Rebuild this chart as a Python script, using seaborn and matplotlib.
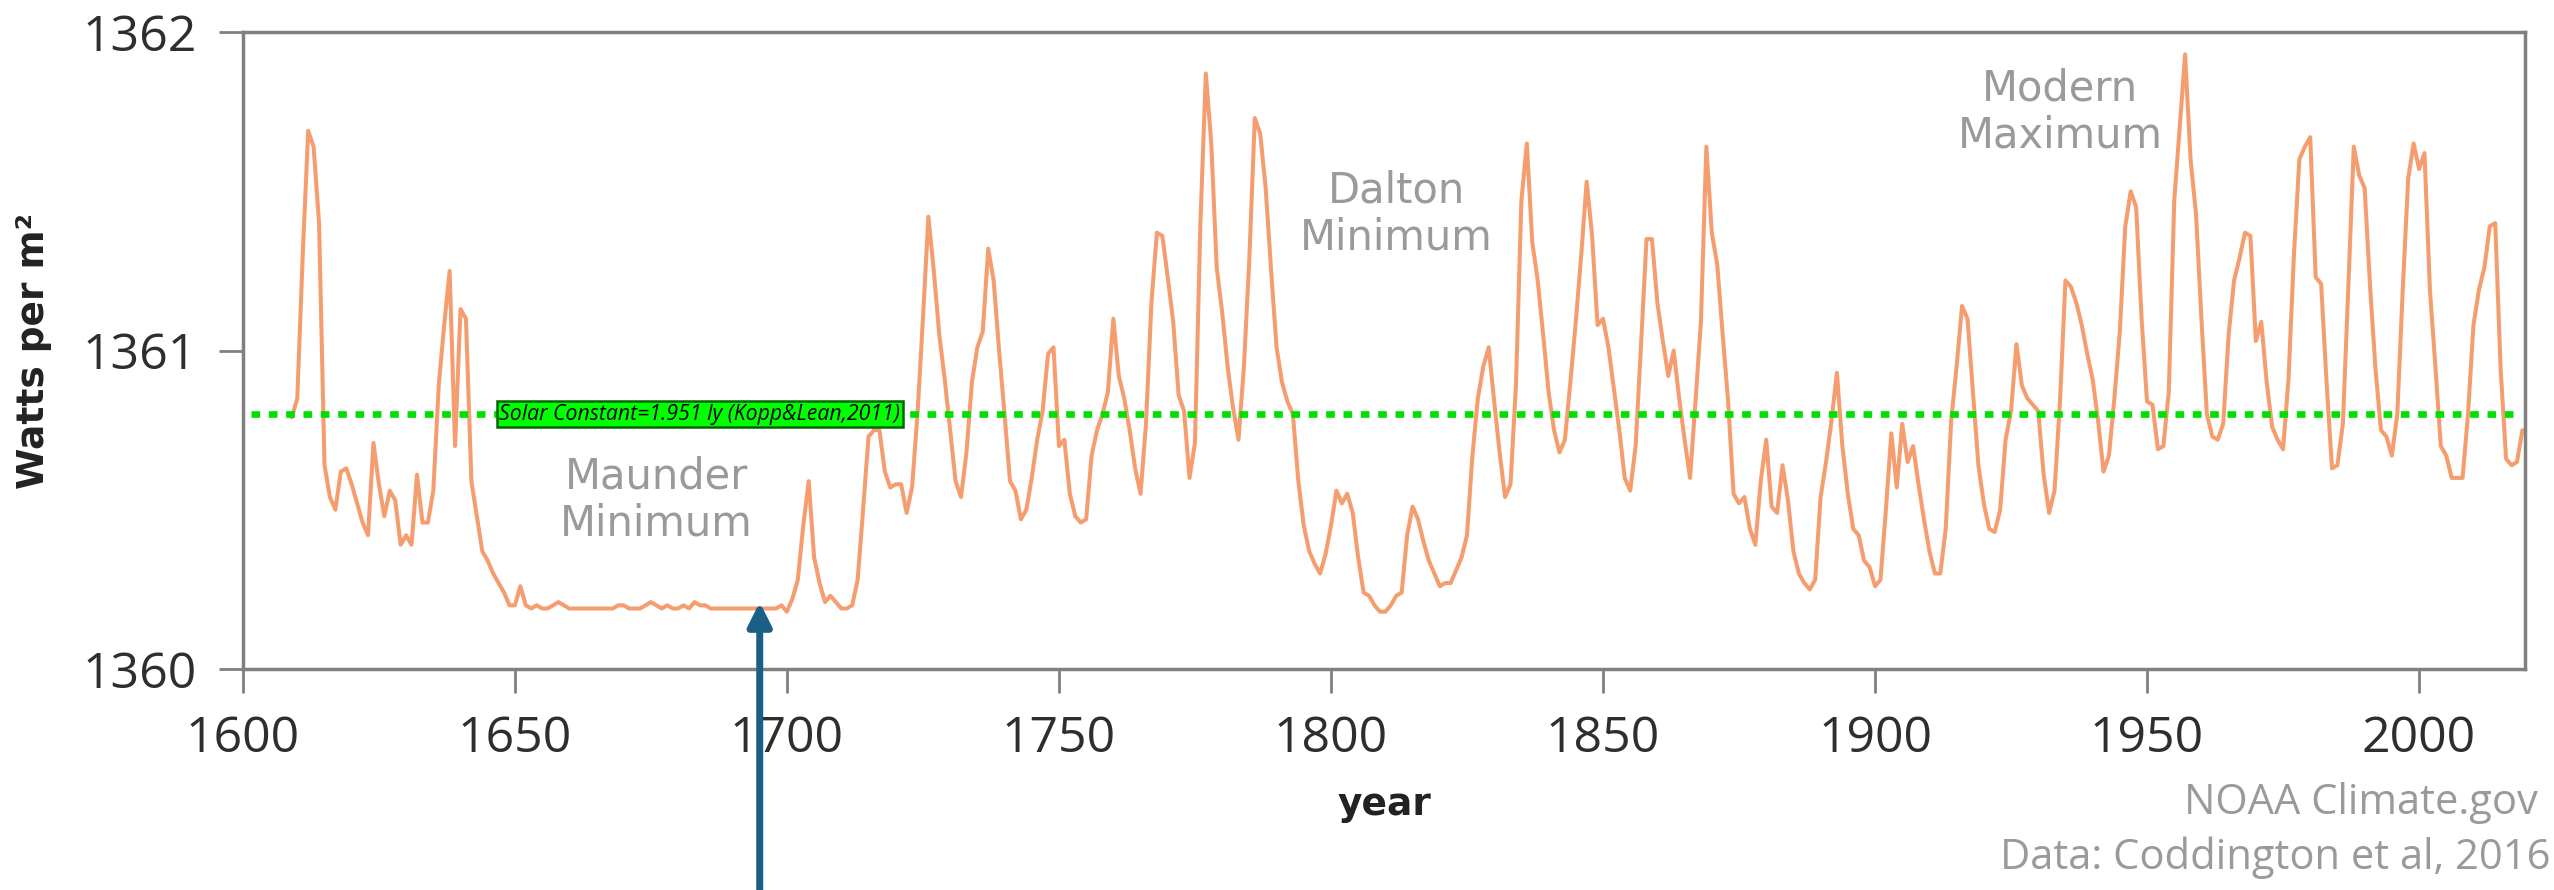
import matplotlib
matplotlib.use('Agg')

import numpy as np
import pandas as pd
import matplotlib.pyplot as plt
import seaborn as sns

# --- Data: total solar irradiance (W/m2) ---
years = list(range(1609, 2020))

tsi_1600s = [
    1360.79,
    1360.85, 1361.30, 1361.69, 1361.64, 1361.40, 1360.64, 1360.54, 1360.50, 1360.62, 1360.63,
    1360.58, 1360.52, 1360.46, 1360.42, 1360.71, 1360.58, 1360.48, 1360.56, 1360.53, 1360.39,
    1360.42, 1360.39, 1360.61, 1360.46, 1360.46, 1360.56, 1360.89, 1361.08, 1361.25, 1360.70,
    1361.13, 1361.10, 1360.59, 1360.48, 1360.37, 1360.34, 1360.30, 1360.27, 1360.24, 1360.20,
    1360.20, 1360.26, 1360.20, 1360.19, 1360.20, 1360.19, 1360.19, 1360.20, 1360.21, 1360.20,
    1360.19, 1360.19, 1360.19, 1360.19, 1360.19, 1360.19, 1360.19, 1360.19, 1360.19, 1360.20,
    1360.20, 1360.19, 1360.19, 1360.19, 1360.20, 1360.21, 1360.20, 1360.19, 1360.20, 1360.19,
    1360.19, 1360.20, 1360.19, 1360.21, 1360.20, 1360.20, 1360.19, 1360.19, 1360.19, 1360.19,
    1360.19, 1360.19, 1360.19, 1360.19, 1360.19, 1360.19, 1360.19, 1360.19, 1360.19, 1360.20,
]
tsi_1700s = [
    1360.18, 1360.22, 1360.28, 1360.45, 1360.59, 1360.35, 1360.27, 1360.21, 1360.23, 1360.21,
    1360.19, 1360.19, 1360.20, 1360.28, 1360.50, 1360.73, 1360.75, 1360.75, 1360.62, 1360.57,
    1360.58, 1360.58, 1360.49, 1360.57, 1360.80, 1361.10, 1361.42, 1361.25, 1361.05, 1360.91,
    1360.75, 1360.59, 1360.54, 1360.68, 1360.90, 1361.01, 1361.06, 1361.32, 1361.22, 1361.00,
    1360.80, 1360.59, 1360.56, 1360.47, 1360.50, 1360.60, 1360.72, 1360.81, 1360.99, 1361.01,
    1360.70, 1360.72, 1360.55, 1360.48, 1360.46, 1360.47, 1360.67, 1360.75, 1360.80, 1360.87,
    1361.10, 1360.92, 1360.85, 1360.75, 1360.63, 1360.55, 1360.77, 1361.15, 1361.37, 1361.36,
    1361.23, 1361.09, 1360.86, 1360.81, 1360.60, 1360.71, 1361.40, 1361.87, 1361.65, 1361.26,
    1361.12, 1360.95, 1360.82, 1360.72, 1360.95, 1361.29, 1361.73, 1361.68, 1361.51, 1361.25,
    1361.01, 1360.90, 1360.84, 1360.80, 1360.59, 1360.45, 1360.37, 1360.33, 1360.30, 1360.36,
]
tsi_1800s = [
    1360.45, 1360.56, 1360.52, 1360.55, 1360.49, 1360.35, 1360.24, 1360.23, 1360.20, 1360.18,
    1360.18, 1360.20, 1360.23, 1360.24, 1360.42, 1360.51, 1360.47, 1360.40, 1360.34, 1360.30,
    1360.26, 1360.27, 1360.27, 1360.31, 1360.35, 1360.42, 1360.67, 1360.85, 1360.95, 1361.01,
    1360.84, 1360.68, 1360.54, 1360.58, 1360.89, 1361.47, 1361.65, 1361.34, 1361.22, 1361.05,
    1360.87, 1360.75, 1360.68, 1360.72, 1360.90, 1361.09, 1361.30, 1361.53, 1361.36, 1361.08,
    1361.10, 1361.01, 1360.88, 1360.75, 1360.60, 1360.56, 1360.70, 1361.02, 1361.35, 1361.35,
    1361.15, 1361.03, 1360.92, 1361.00, 1360.85, 1360.72, 1360.60, 1360.84, 1361.09, 1361.64,
    1361.37, 1361.27, 1361.05, 1360.84, 1360.55, 1360.52, 1360.54, 1360.44, 1360.39, 1360.59,
    1360.72, 1360.51, 1360.49, 1360.64, 1360.53, 1360.37, 1360.30, 1360.27, 1360.25, 1360.28,
    1360.54, 1360.65, 1360.78, 1360.93, 1360.70, 1360.55, 1360.44, 1360.42, 1360.34, 1360.32,
]
tsi_1900s = [
    1360.26, 1360.28, 1360.50, 1360.74, 1360.57, 1360.77, 1360.65, 1360.70, 1360.58, 1360.47,
    1360.37, 1360.30, 1360.30, 1360.44, 1360.78, 1360.95, 1361.14, 1361.10, 1360.87, 1360.64,
    1360.52, 1360.44, 1360.43, 1360.50, 1360.72, 1360.81, 1361.02, 1360.89, 1360.85, 1360.83,
    1360.81, 1360.61, 1360.49, 1360.56, 1360.84, 1361.22, 1361.20, 1361.15, 1361.08, 1360.99,
    1360.91, 1360.78, 1360.62, 1360.67, 1360.85, 1361.06, 1361.39, 1361.50, 1361.45, 1361.10,
    1360.84, 1360.83, 1360.69, 1360.70, 1360.87, 1361.47, 1361.70, 1361.93, 1361.60, 1361.43,
    1361.10, 1360.80, 1360.73, 1360.72, 1360.77, 1361.05, 1361.22, 1361.29, 1361.37, 1361.36,
    1361.03, 1361.09, 1360.90, 1360.76, 1360.72, 1360.69, 1360.91, 1361.30, 1361.60, 1361.64,
    1361.67, 1361.23, 1361.21, 1360.90, 1360.63, 1360.64, 1360.77, 1361.20, 1361.64, 1361.55,
    1361.51, 1361.20, 1360.94, 1360.75, 1360.73, 1360.67, 1360.80, 1361.19, 1361.54, 1361.65,
]
tsi_2000s = [
    1361.57, 1361.62, 1361.19, 1360.95, 1360.70, 1360.67, 1360.60, 1360.60, 1360.60, 1360.80,
    1361.08, 1361.19, 1361.26, 1361.39, 1361.40, 1360.94, 1360.66, 1360.64, 1360.65, 1360.75,
]
tsi = tsi_1600s + tsi_1700s + tsi_1800s + tsi_1900s + tsi_2000s

solar_constant = 1360.8
constant_span = [1601.5, 2017.5]
x_ticks = [1600, 1650, 1700, 1750, 1800, 1850, 1900, 1950, 2000]
y_ticks = [1360, 1361, 1362]

df = pd.DataFrame({'year': years, 'tsi': tsi})

# --- Style ---
sns.set_style('ticks')
plt.rcParams['font.family'] = ['Open Sans', 'DejaVu Sans']

LINE_COLOR = '#F59D6E'
SPINE_COLOR = '#808080'
LABEL_GRAY = '#9A9A9A'
ARROW_COLOR = '#1B5E86'

fig = plt.figure(figsize=(25.54, 8.90), dpi=100)
ax = fig.add_axes([0.0951, 0.2483, 0.8936, 0.7157])

sns.lineplot(data=df, x='year', y='tsi', ax=ax, color=LINE_COLOR, linewidth=2.9)

ax.plot(constant_span, [solar_constant, solar_constant], color='#00E000',
        linestyle=(0, (1.3, 1.3)), linewidth=4.8, zorder=3)

ax.set_xlim(1600, 2019.5)
ax.set_ylim(1360, 1362)
ax.set_xticks(x_ticks)
ax.set_yticks(y_ticks)

for side in ['top', 'right', 'left', 'bottom']:
    ax.spines[side].set_visible(True)
    ax.spines[side].set_color(SPINE_COLOR)
    ax.spines[side].set_linewidth(2.5)

ax.tick_params(axis='both', direction='out', length=17, width=2, color=SPINE_COLOR,
               labelsize=36, labelcolor='#2E2E2E', pad=16)

ax.set_xlabel('year', fontsize=27, fontweight='bold', color='#222222',
              family='DejaVu Sans', labelpad=16)
ax.set_ylabel('Watts per m²', fontsize=27, fontweight='bold', color='#222222',
              family='DejaVu Sans', labelpad=22)

# --- Annotations ---
ax.text(1684, solar_constant, 'Solar Constant=1.951 ly (Kopp&Lean,2011)', fontsize=15.3,
        style='italic', color='black', ha='center', va='center', zorder=5,
        bbox=dict(boxstyle='square,pad=0.12', facecolor='#00FF00', edgecolor='#006400', linewidth=1.8))

ann_kw = dict(fontsize=30, color=LABEL_GRAY, ha='center', va='center',
              family='DejaVu Sans', linespacing=1.15)
ax.text(1676, 1360.53, 'Maunder\nMinimum', **ann_kw)
ax.text(1812, 1361.43, 'Dalton\nMinimum', **ann_kw)
ax.text(1934, 1361.75, 'Modern\nMaximum', **ann_kw)

ax.annotate('', xy=(1695, 1360.21), xycoords='data', xytext=(1695, 0.0),
            textcoords=('data', 'figure fraction'), annotation_clip=False,
            arrowprops=dict(arrowstyle='-|>,head_length=0.7,head_width=0.35', mutation_scale=20,
                            color=ARROW_COLOR, linewidth=5, shrinkA=0, shrinkB=0))

fig.text(0.9935, 0.098, 'NOAA Climate.gov', fontsize=30, color=LABEL_GRAY, ha='right', va='center')
fig.text(0.9985, 0.036, 'Data: Coddington et al, 2016', fontsize=30, color=LABEL_GRAY,
         ha='right', va='center')

fig.savefig('out.png', dpi=100)
plt.close(fig)
